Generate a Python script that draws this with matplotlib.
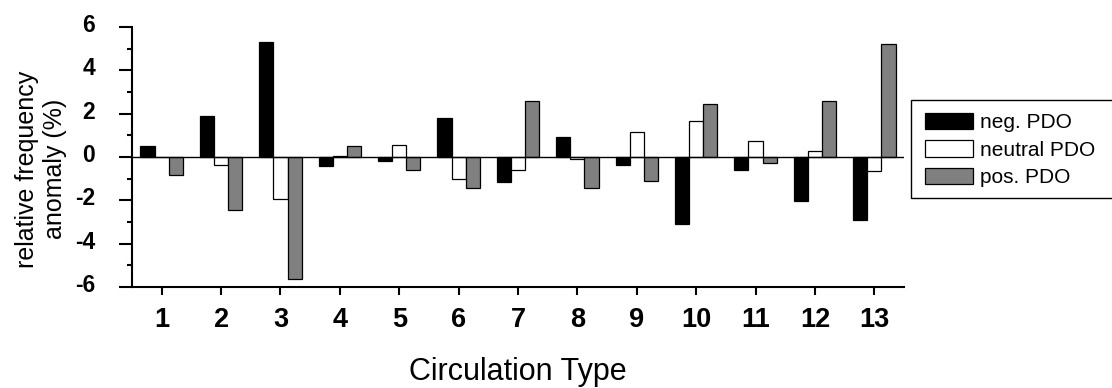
#!/usr/bin/env python3
"""Relative frequency anomaly of circulation types per PDO phase."""
import matplotlib
matplotlib.use("Agg")
import numpy as np
import matplotlib.pyplot as plt
from matplotlib.patches import Rectangle
from matplotlib.ticker import MultipleLocator
from matplotlib.transforms import ScaledTranslation

# ── data ──────────────────────────────────────────────────────
types   = list(range(1, 14))
neg     = [0.53, 1.89, 5.29, -0.43, -0.20, 1.80, -1.15, 0.94, -0.38, -3.10, -0.58, -2.04, -2.89]
neutral = [0.00, -0.37, -1.93, 0.06, 0.54, -1.00, -0.61, -0.08, 1.17, 1.64, 0.72, 0.29, -0.64]
pos     = [-0.85, -2.44, -5.62, 0.53, -0.58, -1.43, 2.59, -1.43, -1.13, 2.46, -0.29, 2.59, 5.23]
series  = [("neg. PDO", neg, "black"),
           ("neutral PDO", neutral, "white"),
           ("pos. PDO", pos, "#808080")]

plt.rcParams["font.family"] = ["Liberation Sans", "DejaVu Sans"]
plt.rcParams["axes.unicode_minus"] = False
W = 0.238
FW, FH = 1112, 388

fig = plt.figure(figsize=(FW / 100, FH / 100), dpi=100)
ax = fig.add_axes([132 / FW, 1 - 287 / FH, 772 / FW, 260 / FH])

x = np.array(types)
for i, (lab, vals, col) in enumerate(series):
    ax.bar(x + (i - 1) * W, vals, W, color=col, edgecolor="black",
           linewidth=0.9, label=lab, zorder=2)
ax.axhline(0, color="black", linewidth=1.0, zorder=3)

ax.set_xlim(0.5, 13.5)
ax.set_ylim(-6, 6)
ax.set_xticks(types)
ax.set_yticks(range(-6, 7, 2))
ax.yaxis.set_minor_locator(MultipleLocator(1))
for s in ("top", "right"):
    ax.spines[s].set_visible(False)
for s in ("left", "bottom"):
    ax.spines[s].set_linewidth(1.5)

ax.tick_params(axis="y", which="major", direction="out", length=9.5, width=1.5,
               pad=17, labelsize=16.5)
ax.tick_params(axis="y", which="minor", direction="out", length=3.8, width=1.5)
ax.tick_params(axis="x", which="major", direction="out", length=5.5, width=1.5,
               pad=9, labelsize=19.5)
# y labels sit a little above their ticks in the original
lift = ScaledTranslation(0, 4 / 100, fig.dpi_scale_trans)
for t in ax.get_yticklabels():
    t.set_fontweight("bold")
    t.set_transform(t.get_transform() + lift)
for t in ax.get_xticklabels():
    t.set_fontweight("bold")

fig.text(41 / FW, 1 - 169 / FH, "relative frequency\nanomaly (%)",
         rotation=90, ha="center", va="center", multialignment="center",
         fontsize=18)
fig.text(518 / FW, 1 - 380 / FH, "Circulation Type", ha="center",
         va="baseline", fontsize=22)

# legend box runs off the right edge of the picture, so draw the frame by hand
fig.patches.append(Rectangle((911 / FW, 1 - 197.5 / FH), 230 / FW, 98 / FH,
                             transform=fig.transFigure, facecolor="white",
                             edgecolor="black", linewidth=1.0, zorder=4))
leg = fig.legend(loc="upper left", bbox_to_anchor=(911 / FW, 1 - 99.5 / FH),
                 borderaxespad=0, fontsize=15, frameon=False,
                 handlelength=2.32, handleheight=0.83,
                 handletextpad=0.32, labelspacing=0.38, borderpad=0.65)
leg.set_zorder(5)

fig.savefig("out.png", dpi=100)
